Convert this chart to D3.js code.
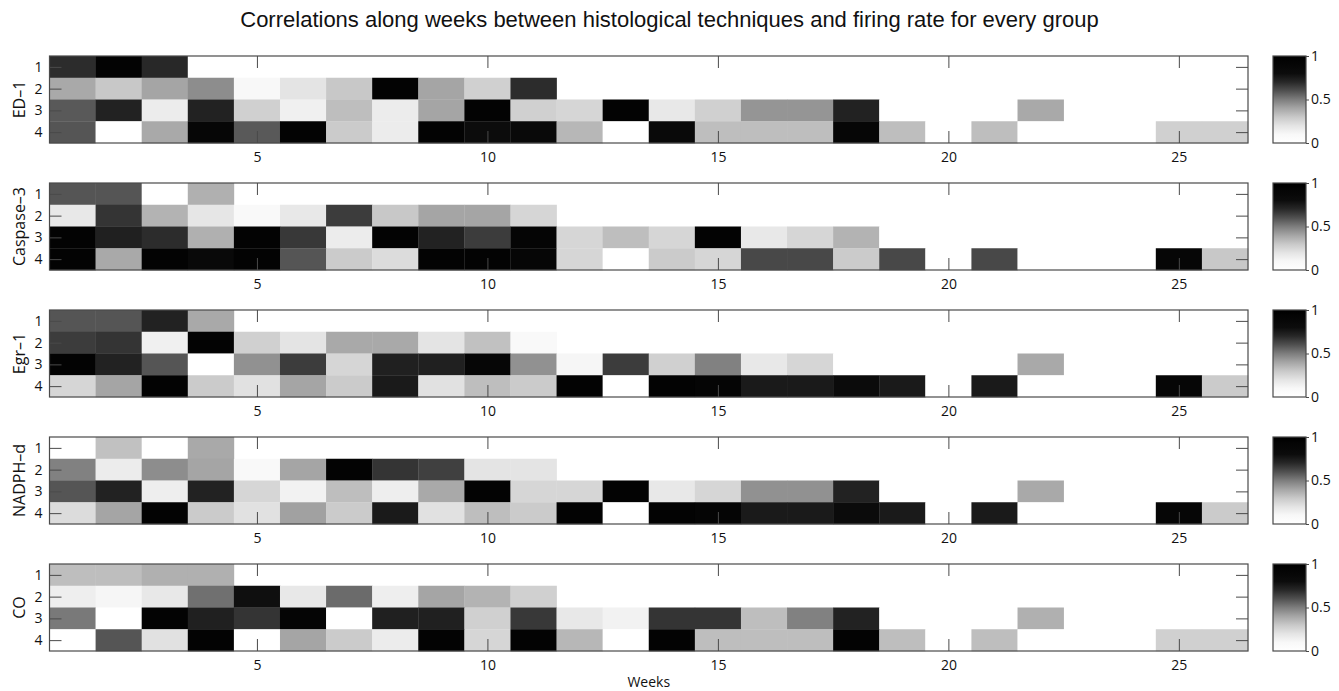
<!DOCTYPE html>
<html>
<head>
<meta charset="utf-8">
<script src="https://cdn.jsdelivr.net/npm/d3@7"></script>
<style>
  html, body { margin: 0; padding: 0; background: #fff; }
  svg { display: block; }
</style>
</head>
<body>
<svg id="chart" width="1339" height="691"></svg>
<script>
// ---------------- DATA ----------------
const weeks = d3.range(1, 27);
const rowLabels = [1, 2, 3, 4];
const xTicks = [5, 10, 15, 20, 25];
const cbTicks = [0, 0.5, 1];
const groups = ["ED–1", "Caspase–3", "Egr–1", "NADPH–d", "CO"];
const titleText = "Correlations along weeks between histological techniques and firing rate for every group";
const xLabel = "Weeks";

// each group: rows 1..4, values per week (row 1: weeks 1-4, row 2: 1-11, row 3: 1-22, row 4: 1-26)
const ed1 = [
  [0.69, 0.95, 0.70, 0],
  [0.39, 0.30, 0.40, 0.46, 0.10, 0.20, 0.30, 0.95, 0.40, 0.27, 0.69],
  [0.58, 0.72, 0.16, 0.72, 0.27, 0.14, 0.33, 0.16, 0.40, 0.95, 0.27, 0.25, 0.95, 0.18, 0.27, 0.44, 0.44, 0.72, 0, 0, 0, 0.39],
  [0.59, 0, 0.39, 0.90, 0.58, 0.95, 0.29, 0.16, 0.95, 0.80, 0.85, 0.35, 0, 0.85, 0.33, 0.33, 0.33, 0.90, 0.33, 0, 0.33, 0, 0, 0, 0.27, 0.27]
];
const caspase3 = [
  [0.59, 0.59, 0, 0.37],
  [0.18, 0.67, 0.36, 0.19, 0.08, 0.18, 0.65, 0.30, 0.40, 0.40, 0.25],
  [0.95, 0.73, 0.69, 0.37, 0.95, 0.66, 0.16, 0.95, 0.72, 0.65, 0.92, 0.25, 0.33, 0.25, 0.95, 0.18, 0.25, 0.36, 0, 0, 0, 0],
  [0.95, 0.39, 0.95, 0.85, 0.95, 0.59, 0.29, 0.23, 0.95, 0.95, 0.90, 0.25, 0, 0.29, 0.25, 0.62, 0.62, 0.29, 0.62, 0, 0.62, 0, 0, 0, 0.90, 0.30]
];
const egr1 = [
  [0.59, 0.59, 0.72, 0.39],
  [0.65, 0.67, 0.14, 0.95, 0.27, 0.20, 0.39, 0.39, 0.20, 0.32, 0.08],
  [0.95, 0.72, 0.59, 0, 0.45, 0.65, 0.25, 0.73, 0.73, 0.90, 0.45, 0.11, 0.65, 0.27, 0.49, 0.18, 0.25, 0, 0, 0, 0, 0.39],
  [0.25, 0.40, 0.95, 0.29, 0.21, 0.40, 0.29, 0.75, 0.21, 0.33, 0.29, 0.95, 0, 0.95, 0.92, 0.75, 0.75, 0.82, 0.75, 0, 0.75, 0, 0, 0, 0.90, 0.29]
];
const nadphd = [
  [0, 0.32, 0, 0.39],
  [0.49, 0.16, 0.46, 0.40, 0.08, 0.40, 0.95, 0.67, 0.64, 0.20, 0.20],
  [0.59, 0.72, 0.15, 0.72, 0.25, 0.13, 0.33, 0.15, 0.39, 0.95, 0.25, 0.25, 0.95, 0.18, 0.25, 0.45, 0.45, 0.72, 0, 0, 0, 0.39],
  [0.23, 0.40, 0.95, 0.29, 0.21, 0.41, 0.29, 0.75, 0.21, 0.33, 0.29, 0.95, 0, 0.95, 0.92, 0.75, 0.75, 0.82, 0.75, 0, 0.75, 0, 0, 0, 0.90, 0.29]
];
const co = [
  [0.33, 0.33, 0.37, 0.37],
  [0.15, 0.11, 0.18, 0.53, 0.79, 0.18, 0.54, 0.15, 0.40, 0.36, 0.27],
  [0.51, 0, 0.95, 0.73, 0.67, 0.92, 0, 0.73, 0.73, 0.27, 0.66, 0.18, 0.13, 0.67, 0.67, 0.33, 0.49, 0.72, 0, 0, 0, 0.37],
  [0, 0.59, 0.21, 0.95, 0, 0.40, 0.29, 0.16, 0.95, 0.25, 0.95, 0.35, 0, 0.95, 0.33, 0.33, 0.33, 0.95, 0.33, 0, 0.33, 0, 0, 0, 0.27, 0.27]
];
const groupData = [ed1, caspase3, egr1, nadphd, co];

// colormap (white -> black) as seen on the colorbar
const cmapStops = [0, 0.1, 0.2, 0.3, 0.4, 0.5, 0.6, 0.7, 0.8, 1];
const cmapGray  = [255, 248, 228, 200, 165, 125, 80, 40, 12, 0];

// ---------------- LAYOUT ----------------
const svg = d3.select("#chart");
const W = 1339;
const plotLeft = 49.5, plotRight = 1248;
const panelTops = [56, 183, 310, 437, 564];
const panelH = 87;
const cbLeft = 1273, cbW = 33;
const frameColor = "#4a4a4a";
const tickFont = "'Open Sans', 'Noto Sans', sans-serif";

const grayScale = d3.scaleLinear().domain(cmapStops).range(cmapGray).clamp(true);
const colorOf = v => { const g = Math.round(grayScale(v)); return `rgb(${g},${g},${g})`; };

const x = d3.scaleLinear().domain([0.5, 26.5]).range([plotLeft, plotRight]);

// gradient for colorbar
const defs = svg.append("defs");
const grad = defs.append("linearGradient").attr("id", "cbgrad")
  .attr("x1", 0).attr("y1", 1).attr("x2", 0).attr("y2", 0);
d3.range(0, 1.0001, 0.02).forEach(t => {
  grad.append("stop").attr("offset", t).attr("stop-color", colorOf(t));
});

// title
svg.append("text")
  .attr("x", W / 2).attr("y", 27)
  .attr("text-anchor", "middle")
  .attr("font-family", "'Liberation Sans', Arial, sans-serif")
  .attr("font-size", 22)
  .attr("fill", "#111")
  .text(titleText);

groups.forEach((name, gi) => {
  const top = panelTops[gi];
  const y = d3.scaleLinear().domain([0.5, 4.5]).range([top, top + panelH]);
  const g = svg.append("g");

  // cells
  const cells = [];
  groupData[gi].forEach((row, ri) => {
    row.forEach((v, wi) => {
      if (v !== null) cells.push({ week: weeks[wi], row: rowLabels[ri], v });
    });
  });
  g.selectAll("rect.cell").data(cells).enter().append("rect")
    .attr("class", "cell")
    .attr("x", d => x(d.week - 0.5))
    .attr("y", d => y(d.row - 0.5))
    .attr("width", d => x(d.week + 0.5) - x(d.week - 0.5) + 0.3)
    .attr("height", d => y(d.row + 0.5) - y(d.row - 0.5) + 0.3)
    .attr("fill", d => colorOf(d.v));

  // axes
  const styleAxis = sel => {
    sel.select(".domain").remove();
    sel.selectAll(".tick line").attr("stroke", frameColor);
    sel.selectAll(".tick text").attr("font-family", tickFont).attr("font-size", 14).attr("fill", "#111");
  };
  g.append("g").attr("transform", `translate(0,${top + panelH})`)
    .call(d3.axisBottom(x).tickValues(xTicks).tickSizeInner(-12).tickSizeOuter(0).tickPadding(9).tickFormat(d3.format("d")))
    .call(styleAxis);
  g.append("g").attr("transform", `translate(0,${top})`)
    .call(d3.axisTop(x).tickValues(xTicks).tickSizeInner(-12).tickSizeOuter(0).tickFormat(""))
    .call(styleAxis);
  g.append("g").attr("transform", `translate(${plotLeft},0)`)
    .call(d3.axisLeft(y).tickValues(rowLabels).tickSizeInner(-12).tickSizeOuter(0).tickPadding(7).tickFormat(d3.format("d")))
    .call(styleAxis);
  g.append("g").attr("transform", `translate(${plotRight},0)`)
    .call(d3.axisRight(y).tickValues(rowLabels).tickSizeInner(-12).tickSizeOuter(0).tickFormat(""))
    .call(styleAxis);

  // frame
  g.append("rect")
    .attr("x", plotLeft).attr("y", top)
    .attr("width", plotRight - plotLeft).attr("height", panelH)
    .attr("fill", "none").attr("stroke", frameColor).attr("stroke-width", 1.2);

  // group label
  g.append("text")
    .attr("transform", `translate(25,${top + panelH / 2}) rotate(-90)`)
    .attr("text-anchor", "middle")
    .attr("font-family", tickFont)
    .attr("font-size", 16)
    .attr("fill", "#111")
    .text(name);

  // colorbar
  const cy = d3.scaleLinear().domain([0, 1]).range([top + panelH, top]);
  g.append("rect")
    .attr("x", cbLeft).attr("y", top).attr("width", cbW).attr("height", panelH)
    .attr("fill", "url(#cbgrad)")
    .attr("stroke", frameColor).attr("stroke-width", 1.2);
  g.append("g").attr("transform", `translate(${cbLeft + cbW},0)`)
    .call(d3.axisRight(cy).tickValues(cbTicks).tickSizeInner(3).tickSizeOuter(0).tickPadding(2).tickFormat(d => d === 0.5 ? "0.5" : d3.format("d")(d)))
    .call(styleAxis);
});

// x label
svg.append("text")
  .attr("x", (plotLeft + plotRight) / 2).attr("y", 687)
  .attr("text-anchor", "middle")
  .attr("font-family", tickFont)
  .attr("font-size", 14)
  .attr("fill", "#111")
  .text(xLabel);
</script>
</body>
</html>
